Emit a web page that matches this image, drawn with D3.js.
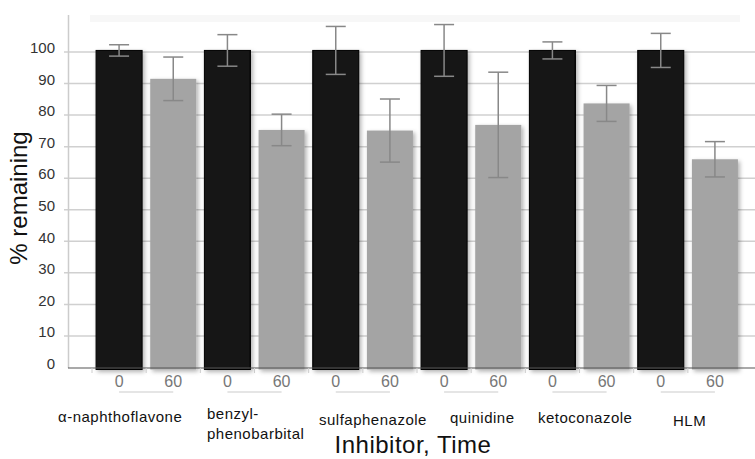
<!doctype html>
<html lang="en">
<head>
  <meta charset="utf-8">
  <style>
    body { margin: 0; background-color: white; }
    svg { display: block; background-color: white; font-family: "Liberation Sans", Arial, sans-serif; }
    .grid line { stroke: #d0d0d0; stroke-width: 1.5px; }
    .ylab { fill: #333; font-size: 15px; }
    .tlab { fill: #777; font-size: 16px; }
    .glab { fill: #111; font-size: 15px; letter-spacing: 0.5px; }
    .err { stroke: #888; stroke-width: 1.5px; fill: none; }
  </style>
</head>
<body>
<script src="https://d3js.org/d3.v7.min.js"></script>
<script>
var width = 755,
    height = 459;

// data
var inhibitors = ["α-naphthoflavone", "benzyl-|phenobarbital", "sulfaphenazole", "quinidine", "ketoconazole", "HLM"];
var times = ["0", "60"];
var mean0 = [100.5, 100.5, 100.5, 100.5, 100.5, 100.5];
var mean60 = [91.5, 75.3, 75.1, 76.9, 83.7, 66.0];
var sd0 = [1.8, 5.0, 7.6, 8.2, 2.7, 5.4];
var sd60 = [6.9, 5.0, 10.0, 16.7, 5.7, 5.6];
var yTicks = [0, 10, 20, 30, 40, 50, 60, 70, 80, 90, 100];

var rows = [];
inhibitors.forEach(function(name, i) {
  rows.push({key: i + "_0", group: i, time: times[0], mean: mean0[i], sd: sd0[i]});
  rows.push({key: i + "_60", group: i, time: times[1], mean: mean60[i], sd: sd60[i]});
});

var x = d3.scaleBand()
  .domain(rows.map(function(d) { return d.key; }))
  .range([92, 742])
  .paddingInner(0.15)
  .paddingOuter(0.075);

var y = d3.scaleLinear()
  .domain([0, 100])
  .range([367.5, 52]);

var svg = d3.select("body").append("svg")
  .attr("width", width)
  .attr("height", height);

var defs = svg.append("defs");
var f = defs.append("filter").attr("id", "shadow")
  .attr("x", "-10%").attr("y", "-10%").attr("width", "130%").attr("height", "130%");
f.append("feDropShadow")
  .attr("dx", 2).attr("dy", 2).attr("stdDeviation", 2)
  .attr("flood-color", "#000").attr("flood-opacity", 0.3);

// faint top band
svg.append("rect")
  .attr("x", 90).attr("y", 15).attr("width", 650).attr("height", 7)
  .attr("fill", "#f7f7f7");

// gridlines
svg.append("g").attr("class", "grid")
  .selectAll("line")
  .data(yTicks.slice(1))
  .enter().append("line")
  .attr("x1", 64).attr("x2", width)
  .attr("y1", function(d) { return y(d); })
  .attr("y2", function(d) { return y(d); });

// y axis line
svg.append("line")
  .attr("x1", 68.5).attr("x2", 68.5)
  .attr("y1", 15).attr("y2", 368)
  .attr("stroke", "#ccc").attr("stroke-width", 1.5);

// y tick labels
svg.append("g")
  .selectAll("text")
  .data(yTicks)
  .enter().append("text")
  .attr("class", "ylab")
  .attr("x", 55)
  .attr("y", function(d) { return y(d) - 4; })
  .attr("dy", "0.35em")
  .attr("text-anchor", "end")
  .text(function(d) { return d; });

// bars
svg.append("g")
  .selectAll("rect")
  .data(rows)
  .enter().append("rect")
  .attr("x", function(d) { return x(d.key); })
  .attr("y", function(d) { return y(d.mean); })
  .attr("width", x.bandwidth())
  .attr("height", function(d) { return y(0) + 2 - y(d.mean); })
  .attr("fill", function(d) { return d.time === "0" ? "#131313" : "#a4a4a4"; })
  .attr("stroke", function(d) { return d.time === "0" ? "#050505" : "none"; })
  .attr("filter", "url(#shadow)");

// x axis line + slot ticks
svg.append("line")
  .attr("x1", 68).attr("x2", width)
  .attr("y1", 368).attr("y2", 368)
  .attr("stroke", "#555").attr("stroke-width", 1.2);

svg.append("g")
  .selectAll("line")
  .data(rows)
  .enter().append("line")
  .attr("x1", function(d) { return x(d.key) - x.step() * x.paddingInner() / 2; })
  .attr("x2", function(d) { return x(d.key) - x.step() * x.paddingInner() / 2; })
  .attr("y1", 368).attr("y2", 373)
  .attr("stroke", "#ccc");

// error bars
var eb = svg.append("g").selectAll("g")
  .data(rows)
  .enter().append("g")
  .attr("class", "err")
  .attr("transform", function(d) { return "translate(" + (x(d.key) + x.bandwidth() / 2) + ",0)"; });
eb.append("line")
  .attr("y1", function(d) { return y(d.mean + d.sd); })
  .attr("y2", function(d) { return y(d.mean - d.sd); });
eb.append("line")
  .attr("x1", -10).attr("x2", 10)
  .attr("y1", function(d) { return y(d.mean + d.sd); })
  .attr("y2", function(d) { return y(d.mean + d.sd); });
eb.append("line")
  .attr("x1", -10).attr("x2", 10)
  .attr("y1", function(d) { return y(d.mean - d.sd); })
  .attr("y2", function(d) { return y(d.mean - d.sd); });

// time labels
svg.append("g")
  .selectAll("text")
  .data(rows)
  .enter().append("text")
  .attr("class", "tlab")
  .attr("x", function(d) { return x(d.key) + x.bandwidth() / 2; })
  .attr("y", 387)
  .attr("text-anchor", "middle")
  .text(function(d) { return d.time; });

// group underline
svg.append("g")
  .selectAll("line")
  .data(inhibitors)
  .enter().append("line")
  .attr("x1", function(d, i) { return x(i + "_0") + x.bandwidth() / 2; })
  .attr("x2", function(d, i) { return x(i + "_60") + x.bandwidth() / 2; })
  .attr("y1", 392).attr("y2", 392)
  .attr("stroke", "#ddd").attr("stroke-width", 1.5);

// group labels
var labelX = [58, 207, 319, 450, 538, 673];
var labelY = [422, 419, 425, 423, 423, 426];
var gl = svg.append("g")
  .selectAll("text")
  .data(inhibitors)
  .enter().append("text")
  .attr("class", "glab")
  .attr("x", function(d, i) { return labelX[i]; })
  .attr("y", function(d, i) { return labelY[i]; });
gl.selectAll("tspan")
  .data(function(d, i) { return d.split("|").map(function(s) { return {s: s, i: i}; }); })
  .enter().append("tspan")
  .attr("x", function(d) { return labelX[d.i]; })
  .attr("dy", function(d, j) { return j ? 20 : 0; })
  .text(function(d) { return d.s; });

// axis titles
svg.append("text")
  .attr("x", 413).attr("y", 453)
  .attr("text-anchor", "middle")
  .attr("font-size", 24)
  .attr("letter-spacing", 0.5)
  .attr("fill", "#111")
  .text("Inhibitor, Time");

svg.append("text")
  .attr("transform", "translate(27,198)rotate(-90)")
  .attr("text-anchor", "middle")
  .attr("font-size", 24)
  .attr("fill", "#111")
  .text("% remaining");
</script>
</body>
</html>
